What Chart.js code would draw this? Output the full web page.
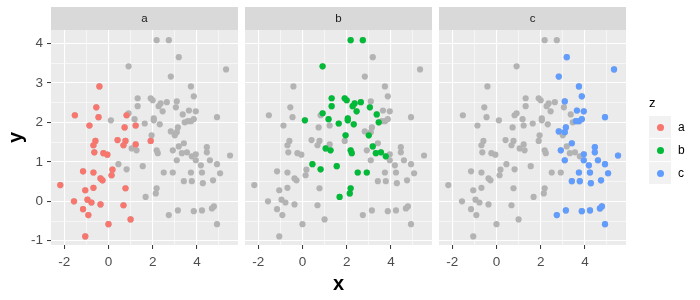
<!DOCTYPE html>
<html><head><meta charset="utf-8">
<script src="https://cdn.jsdelivr.net/npm/chart.js@4"></script>
<style>
html,body{margin:0;padding:0;background:#fff;}
#wrap{position:relative;width:700px;height:300px;overflow:hidden;font-family:"Liberation Sans",Arial,sans-serif;}
canvas{position:absolute;left:0;top:0;}
.lg{position:absolute;}
.key{position:absolute;width:22px;height:22px;background:#F2F2F2;}
.dot{position:absolute;left:7.5px;top:7.5px;width:7px;height:7px;border-radius:50%;}
.lab{position:absolute;font-size:12px;color:#000;line-height:22px;}
</style></head><body>
<div id="wrap">
<canvas id="ca" width="700" height="300"></canvas>
<canvas id="cb" width="700" height="300"></canvas>
<canvas id="cc" width="700" height="300"></canvas>
<div class="lg" style="left:649px;top:95px;font-size:13px;line-height:15px;">z</div>
<div class="key" style="left:649px;top:116px;"><div class="dot" style="background:#F8766D"></div></div>
<div class="lab" style="left:678px;top:116px;">a</div>
<div class="key" style="left:649px;top:139px;"><div class="dot" style="background:#00BA38"></div></div>
<div class="lab" style="left:678px;top:139px;">b</div>
<div class="key" style="left:649px;top:162px;"><div class="dot" style="background:#619CFF"></div></div>
<div class="lab" style="left:678px;top:162px;">c</div>
</div>
<script>
const groups = ['a','b','c'];
const groupColors = ['#F8766D','#00BA38','#619CFF'];
const xTicks = [-2,0,2,4];
const yTicks = [-1,0,1,2,3,4];
const xMinor = [-1,1,3,5];
const yMinor = [-0.5,0.5,1.5,2.5,3.5];

const aX = [-0.41,-0.55,-1.52,-0.45,0.82,-0.86,1.23,0.73,-0.59,-0.68,0.41,0.77,0.68,1.23,1.91,-0.64,-0.23,-0.05,-1.15,-0.68,0.18,0.14,-0.36,-0.27,-2.18,-1.05,-0.68,0.77,-1.56,-0.95,-0.77,-0.36,0.68,-1.15,-0.91,0.0,1.0,-1.05];
const aY = [2.91,2.38,2.18,2.13,2.18,1.92,1.92,1.87,1.53,1.42,1.55,1.53,1.42,1.44,1.53,1.24,1.22,1.18,0.76,0.73,0.80,0.66,0.58,0.53,0.41,0.28,0.34,0.33,0.0,0.04,-0.03,-0.08,-0.10,-0.20,-0.35,-0.58,-0.46,-0.89];
const bX = [2.18,2.73,0.91,1.32,1.91,2.0,2.64,2.36,1.32,2.27,3.05,2.45,0.91,3.36,0.11,1.18,2.05,2.05,1.64,2.32,3.45,1.95,3.0,1.05,1.27,2.18,2.23,3.18,3.32,3.55,3.77,0.45,0.82,1.55,2.5,2.91,2.18,2.14,1.68];
const bY = [4.08,4.08,3.42,2.61,2.61,2.56,2.51,2.48,2.41,2.41,2.38,2.28,2.23,2.20,2.05,2.08,2.10,2.05,1.97,1.95,2.0,1.67,1.67,1.34,1.29,1.29,1.22,1.39,1.22,1.24,1.14,0.94,0.81,0.89,0.73,0.73,0.33,0.20,0.11];
const cX = [3.18,5.32,2.82,3.73,3.86,3.09,3.64,3.95,4.91,3.59,3.73,3.86,3.14,2.82,3.09,3.41,2.91,4.45,4.45,3.95,5.5,3.09,3.95,4.59,4.18,4.91,3.73,4.23,5.05,3.41,3.77,4.27,4.73,2.73,3.14,3.86,4.23,4.68,4.77,4.91];
const cY = [3.65,3.34,3.16,2.91,2.66,2.53,2.30,2.28,2.13,2.03,2.03,2.08,1.87,1.77,1.75,1.47,1.29,1.37,1.24,1.19,1.16,1.04,1.04,1.04,0.91,0.94,0.73,0.73,0.71,0.51,0.51,0.46,0.53,-0.35,-0.23,-0.25,-0.23,-0.18,-0.13,-0.58];

const xs = [aX,bX,cX], ys = [aY,bY,cY];
const pts = (X,Y) => X.map((v,i)=>({x:v,y:Y[i]}));
const allPts = [].concat(pts(aX,aY), pts(bX,bY), pts(cX,cY));

const panelPlugin = {
  id:'panel',
  beforeDraw(chart, args, opts){
    const {ctx, chartArea:a} = chart;
    ctx.save();
    ctx.fillStyle = '#EBEBEB';
    ctx.fillRect(a.left, a.top, a.right-a.left, a.bottom-a.top);
    ctx.fillStyle = '#D9D9D9';
    ctx.fillRect(a.left, opts.stripTop, a.right-a.left, a.top-opts.stripTop);
    ctx.fillStyle = '#1A1A1A';
    ctx.font = '11.5px "Liberation Sans", Arial, sans-serif';
    ctx.textAlign='center'; ctx.textBaseline='middle';
    ctx.fillText(opts.label, (a.left+a.right)/2, (opts.stripTop+a.top)/2 + 0.5);
    ctx.restore();
  }
};

const layouts = [
  {id:'ca', left:51, right:238},
  {id:'cb', left:245, right:432},
  {id:'cc', left:439, right:626}
];

const tickSet = (major, minor) => major.concat(minor).sort((p,q)=>p-q).map(v=>({value:v}));
const isMajor = (list, v) => list.some(t => Math.abs(t - v) < 1e-9);

groups.forEach((g, gi) => {
  const L = layouts[gi];
  new Chart(document.getElementById(L.id), {
    type:'scatter',
    data:{datasets:[
      {label:g, data:pts(xs[gi], ys[gi]), backgroundColor:groupColors[gi], borderWidth:0, pointRadius:3.1, pointHoverRadius:3.1, order:0},
      {label:'all', data:allPts, backgroundColor:'#B3B3B3', borderWidth:0, pointRadius:3.1, pointHoverRadius:3.1, order:1}
    ]},
    options:{
      responsive:false, animation:false, devicePixelRatio:1,
      layout:{padding:{left:0, right:700-L.right, top:30, bottom:0}},
      plugins:{legend:{display:false}, tooltip:{enabled:false}, panel:{label:g, stripTop:7}},
      events:[],
      scales:{
        x:{type:'linear', min:-2.6, max:5.86,
          afterBuildTicks: s => { s.ticks = tickSet(xTicks, xMinor); },
          afterFit: s => { s.height = 55; },
          border:{display:false},
          grid:{color:'#FFFFFF', lineWidth: c => isMajor(xTicks, c.tick.value) ? 1.1 : 0.55,
                tickColor: c => isMajor(xTicks, c.tick.value) ? '#333333' : 'rgba(0,0,0,0)', tickLength:4, tickWidth:1},
          ticks:{autoSkip:false, maxRotation:0, padding:5, color:'#4D4D4D', font:{family:'"Liberation Sans", Arial, sans-serif', size:13.5},
                 callback: v => isMajor(xTicks, v) ? String(v) : ''},
          title:{display: gi===1, text:'x', color:'#000', font:{family:'"Liberation Sans", Arial, sans-serif', size:20, weight:'bold'}, padding:{top:0,bottom:4}}
        },
        y:{type:'linear', min:-1.107, max:4.339,
          afterBuildTicks: s => { s.ticks = tickSet(yTicks, yMinor); },
          afterFit: s => { s.width = L.left; },
          border:{display:false},
          grid:{color:'#FFFFFF', lineWidth: c => isMajor(yTicks, c.tick.value) ? 1.1 : 0.55,
                drawTicks: gi===0,
                tickColor: c => isMajor(yTicks, c.tick.value) ? '#333333' : 'rgba(0,0,0,0)', tickLength:4, tickWidth:1},
          ticks:{display: gi===0, autoSkip:false, padding:4, color:'#4D4D4D', font:{family:'"Liberation Sans", Arial, sans-serif', size:13.5},
                 callback: v => isMajor(yTicks, v) ? String(v) : ''},
          title:{display: gi===0, text:'y', color:'#000', font:{family:'"Liberation Sans", Arial, sans-serif', size:20, weight:'bold'}, padding:{top:4,bottom:0}}
        }
      }
    },
    plugins:[panelPlugin]
  });
});
</script>
</body></html>
